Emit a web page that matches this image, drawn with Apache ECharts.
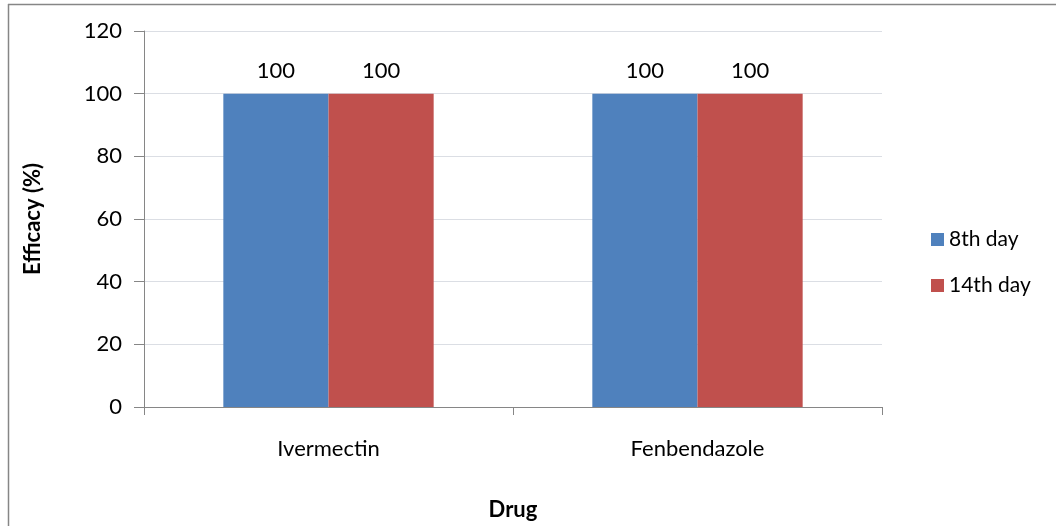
<!DOCTYPE html>
<html><head><meta charset="utf-8">
<script src="https://cdn.jsdelivr.net/npm/echarts@6/dist/echarts.min.js"></script>
<style>html,body{margin:0;padding:0;background:#fff}#c{width:1056px;height:526px}</style>
</head><body><div id="c"></div>
<script>
const categories = ['Ivermectin', 'Fenbendazole'];
const seriesNames = ['8th day', '14th day'];
const day8 = [100, 100];
const day14 = [100, 100];
const colors = ['#4F81BD', '#C0504D'];
const font = 'Lato, "Open Sans", sans-serif';
const chart = echarts.init(document.getElementById('c'), null, {renderer: 'canvas'});
const lbl = {show: true, position: 'top', distance: 12, fontFamily: font, fontSize: 22, color: '#000'};
chart.setOption({
  animation: false,
  backgroundColor: '#fff',
  grid: {left: 144, right: 174, top: 31, bottom: 118, containLabel: false},
  legend: {
    orient: 'vertical', left: 926, top: 224, itemWidth: 13, itemHeight: 13, itemGap: 25,
    icon: 'rect',
    textStyle: {fontFamily: font, fontSize: 21, color: '#000', padding: [0, 0, 0, 0]},
    data: seriesNames
  },
  xAxis: {
    type: 'category', data: categories,
    name: 'Drug', nameLocation: 'middle', nameGap: 92,
    nameTextStyle: {fontFamily: font, fontSize: 22, fontWeight: 'bold', color: '#000'},
    axisLine: {lineStyle: {color: '#868686', width: 1}},
    axisTick: {show: true, length: 8, lineStyle: {color: '#868686'}},
    axisLabel: {fontFamily: font, fontSize: 22, color: '#000', margin: 31}
  },
  yAxis: {
    type: 'value', min: 0, max: 120, interval: 20,
    name: 'Efficacy (%)', nameLocation: 'middle', nameGap: 100, nameRotate: 90,
    nameTextStyle: {fontFamily: font, fontSize: 22, fontWeight: 'bold', color: '#000'},
    axisLine: {show: true, lineStyle: {color: '#868686', width: 1}},
    axisTick: {show: true, length: 10, lineStyle: {color: '#868686'}},
    axisLabel: {fontFamily: font, fontSize: 22, color: '#000', margin: 22}
  },
  series: [
    {name: seriesNames[0], type: 'bar', data: day8, itemStyle: {color: colors[0]}, barGap: '0%', barCategoryGap: '43%', label: lbl},
    {name: seriesNames[1], type: 'bar', data: day14, itemStyle: {color: colors[1]}, barGap: '0%', barCategoryGap: '43%', label: lbl}
  ],
  graphic: [
    {type: 'line', shape: {x1: 8, y1: 4.5, x2: 1056, y2: 4.5}, style: {stroke: '#868686', lineWidth: 1.5}},
    {type: 'line', shape: {x1: 8.5, y1: 4, x2: 8.5, y2: 526}, style: {stroke: '#868686', lineWidth: 1.5}}
  ]
});
</script></body></html>
